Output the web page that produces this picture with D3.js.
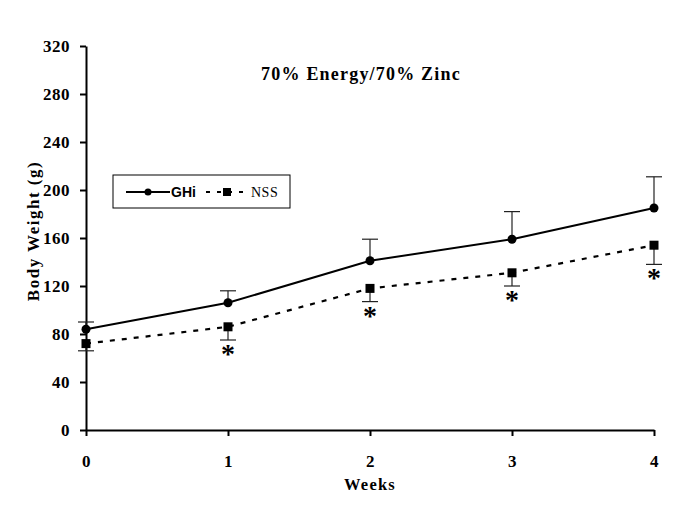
<!DOCTYPE html>
<html>
<head>
<meta charset="utf-8">
<script src="https://cdn.jsdelivr.net/npm/d3@7"></script>
<style>
  body { margin: 0; background: #fff; }
  .serif { font-family: "Liberation Serif", "Times New Roman", serif; font-weight: bold; }
</style>
</head>
<body>
<div id="viz"></div>
<script>
var weeks = [0, 1, 2, 3, 4];
var ghiMean = [84, 106, 141, 159, 185];
var ghiErr = [6, 10, 18, 23, 26];
var nssMean = [72, 86, 118, 131, 154];
var nssErr = [6, 11, 11, 11, 16];
var starWeeks = [1, 2, 3, 4];
var yTicks = [0, 40, 80, 120, 160, 200, 240, 280, 320];

var width = 685, height = 513;
var margin = {top: 46, right: 31, bottom: 83, left: 86};

var svg = d3.select('#viz').append('svg')
    .attr('width', width)
    .attr('height', height);

var x = d3.scaleLinear()
    .domain([0, 4])
    .range([margin.left, width - margin.right]);

var y = d3.scaleLinear()
    .domain([0, 320])
    .range([height - margin.bottom, margin.top]);

// axes
var xAxis = svg.append('g')
    .attr('transform', 'translate(0,' + (height - margin.bottom) + ')')
    .call(d3.axisBottom(x).tickValues(weeks).tickFormat(d3.format('d')).tickSize(6).tickSizeOuter(0).tickPadding(19));

var yAxis = svg.append('g')
    .attr('transform', 'translate(' + margin.left + ',0)')
    .call(d3.axisLeft(y).tickValues(yTicks).tickSize(6).tickSizeOuter(0).tickPadding(10));

[xAxis, yAxis].forEach(function (g) {
  g.selectAll('.domain, line').attr('stroke', '#000').attr('stroke-width', 2);
  g.selectAll('text')
    .attr('class', 'serif')
    .attr('font-size', 17)
    .attr('letter-spacing', 0.5)
    .attr('fill', '#000');
});
yAxis.selectAll('text').attr('dy', '0.34em');

// axis titles
svg.append('text')
    .attr('class', 'serif')
    .attr('x', x(2))
    .attr('y', 490)
    .attr('text-anchor', 'middle')
    .attr('font-size', 16.5)
    .attr('letter-spacing', 1.2)
    .text('Weeks');

svg.append('text')
    .attr('class', 'serif')
    .attr('transform', 'translate(39,231) rotate(-90)')
    .attr('text-anchor', 'middle')
    .attr('font-size', 17)
    .attr('letter-spacing', 1.5)
    .text('Body Weight (g)');

svg.append('text')
    .attr('class', 'serif')
    .attr('x', 361)
    .attr('y', 80)
    .attr('text-anchor', 'middle')
    .attr('font-size', 18)
    .attr('letter-spacing', 1.2)
    .text('70% Energy/70% Zinc');

var capW = 8;

// error bars: GHi upward, NSS downward
weeks.forEach(function (w, i) {
  var gx = x(w);
  svg.append('line')
      .attr('x1', gx).attr('x2', gx)
      .attr('y1', y(ghiMean[i])).attr('y2', y(ghiMean[i] + ghiErr[i]))
      .attr('stroke', '#222').attr('stroke-width', 1.2);
  svg.append('line')
      .attr('x1', gx - capW).attr('x2', gx + capW)
      .attr('y1', y(ghiMean[i] + ghiErr[i])).attr('y2', y(ghiMean[i] + ghiErr[i]))
      .attr('stroke', '#222').attr('stroke-width', 1.2);
  svg.append('line')
      .attr('x1', gx).attr('x2', gx)
      .attr('y1', y(nssMean[i])).attr('y2', y(nssMean[i] - nssErr[i]))
      .attr('stroke', '#222').attr('stroke-width', 1.2);
  svg.append('line')
      .attr('x1', gx - capW).attr('x2', gx + capW)
      .attr('y1', y(nssMean[i] - nssErr[i])).attr('y2', y(nssMean[i] - nssErr[i]))
      .attr('stroke', '#222').attr('stroke-width', 1.2);
});

var line = d3.line()
    .x(function (d, i) { return x(weeks[i]); })
    .y(function (d) { return y(d); });

svg.append('path')
    .datum(ghiMean)
    .attr('d', line)
    .attr('fill', 'none')
    .attr('stroke', '#000')
    .attr('stroke-width', 2);

svg.append('path')
    .datum(nssMean)
    .attr('d', line)
    .attr('fill', 'none')
    .attr('stroke', '#000')
    .attr('stroke-width', 2.2)
    .attr('stroke-dasharray', '5,7');

svg.selectAll('.ghi-dot')
    .data(ghiMean)
  .enter().append('circle')
    .attr('cx', function (d, i) { return x(weeks[i]); })
    .attr('cy', function (d) { return y(d); })
    .attr('r', 4.5)
    .attr('fill', '#000');

svg.selectAll('.nss-sq')
    .data(nssMean)
  .enter().append('rect')
    .attr('x', function (d, i) { return x(weeks[i]) - 4.5; })
    .attr('y', function (d) { return y(d) - 4.5; })
    .attr('width', 9)
    .attr('height', 9)
    .attr('fill', '#000');

// significance stars
svg.selectAll('.star')
    .data(starWeeks)
  .enter().append('text')
    .attr('class', 'serif')
    .attr('x', function (w) { return x(w); })
    .attr('y', function (w) { return y(nssMean[w] - nssErr[w]) + 23; })
    .attr('text-anchor', 'middle')
    .attr('font-size', 28)
    .text('*');

// legend
var legend = svg.append('g')
    .attr('transform', 'translate(113,175)');

legend.append('rect')
    .attr('width', 177)
    .attr('height', 33)
    .attr('fill', '#fff')
    .attr('stroke', '#000')
    .attr('stroke-width', 1);

legend.append('line')
    .attr('x1', 13).attr('x2', 57).attr('y1', 17).attr('y2', 17)
    .attr('stroke', '#000').attr('stroke-width', 2);
legend.append('circle')
    .attr('cx', 35).attr('cy', 17).attr('r', 3.5).attr('fill', '#000');
legend.append('text')
    .attr('x', 58).attr('y', 22)
    .attr('font-family', 'Liberation Sans, Arial, sans-serif')
    .attr('font-weight', 'bold')
    .attr('font-size', 14)
    .text('GHi');

legend.append('line')
    .attr('x1', 93).attr('x2', 136).attr('y1', 17).attr('y2', 17)
    .attr('stroke', '#000').attr('stroke-width', 2.2)
    .attr('stroke-dasharray', '4,7');
legend.append('rect')
    .attr('x', 110).attr('y', 13).attr('width', 8).attr('height', 8).attr('fill', '#000');
legend.append('text')
    .attr('x', 138).attr('y', 22)
    .attr('font-family', 'Liberation Serif, Times New Roman, serif')
    .attr('font-size', 14)
    .attr('letter-spacing', 0.5)
    .text('NSS');
</script>
</body>
</html>
